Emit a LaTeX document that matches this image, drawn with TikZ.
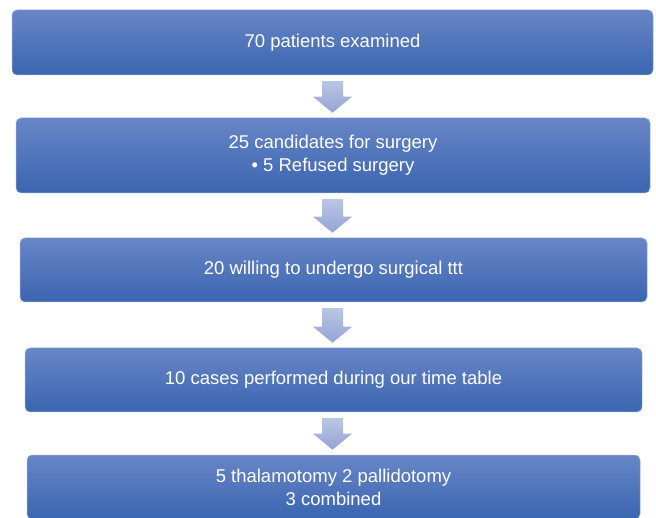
\documentclass[tikz,border=0pt]{standalone}
\usepackage{fontspec}
\setmainfont{Liberation Sans}
\usetikzlibrary{calc}
\definecolor{boxtop}{HTML}{6886C6}
\definecolor{boxbot}{HTML}{3A65B0}
\definecolor{arrtop}{HTML}{BAC6E6}
\definecolor{arrbot}{HTML}{95A3D3}
\tikzset{
  stepbox/.style={rounded corners=5pt, top color=boxtop, bottom color=boxbot,
    draw=boxtop!70!white, line width=0.5pt, text=white, align=center,
    inner sep=0pt, font=\fontsize{18.5}{23}\selectfont},
  arrfill/.style={top color=arrtop, bottom color=arrbot, draw=none}
}
\newcommand\blockarrow[2]{%
  \shade[arrfill] let \p1=(#1.south), \p2=(#2.north) in
    (322,\y1-6) -- (343,\y1-6) -- (343,\y2+21) -- (352,\y2+21) --
    (332.5,\y2+5) -- (313,\y2+21) -- (322,\y2+21) -- cycle;}
\begin{document}
\begin{tikzpicture}[x=1pt,y=1pt]
\useasboundingbox (0,0) rectangle (656,517);
\begin{scope}
\clip (0,0) rectangle (656,517);
\node[stepbox, minimum width=641, minimum height=65] (b1) at (332.5,474.5) {70 patients examined};
\node[stepbox, minimum width=634, minimum height=75] (b2) at (333,361.5) {25 candidates for surgery\\\textbullet\ 5 Refused surgery};
\node[stepbox, minimum width=627, minimum height=64] (b3) at (333.5,247) {20 willing to undergo surgical ttt};
\node[stepbox, minimum width=617, minimum height=64] (b4) at (333.5,137) {10 cases performed during our time table};
\node[stepbox, minimum width=613, minimum height=64] (b5) at (333.5,30) {5 thalamotomy 2 pallidotomy\\3 combined};
\blockarrow{b1}{b2}
\blockarrow{b2}{b3}
\blockarrow{b3}{b4}
\blockarrow{b4}{b5}
\end{scope}
\end{tikzpicture}
\end{document}
